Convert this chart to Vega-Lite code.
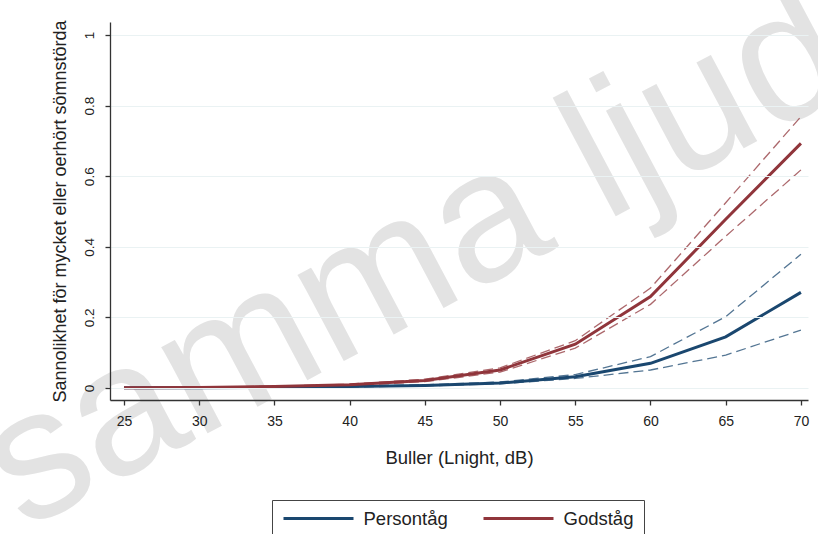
{
  "$schema": "https://vega.github.io/schema/vega-lite/v6.json",
  "autosize": {"type": "none"},
  "padding": {"left": 110, "top": 22, "right": 10, "bottom": 134},
  "width": 698,
  "height": 378,
  "background": "white",
  "config": {
    "font": "Liberation Sans",
    "view": {"stroke": null},
    "axis": {
      "labelFont": "Liberation Sans",
      "titleFont": "Liberation Sans",
      "labelColor": "#222222",
      "titleColor": "#222222",
      "titleFontWeight": "normal",
      "domainColor": "#333333",
      "tickColor": "#333333",
      "tickSize": 5,
      "domainWidth": 1.3,
      "tickWidth": 1.3
    }
  },
  "datasets": {
    "curves": [
      {"buller": 25, "grupp": "Persontåg", "kurva": "est", "p": 0.0005},
      {"buller": 30, "grupp": "Persontåg", "kurva": "est", "p": 0.001},
      {"buller": 35, "grupp": "Persontåg", "kurva": "est", "p": 0.002},
      {"buller": 40, "grupp": "Persontåg", "kurva": "est", "p": 0.004},
      {"buller": 45, "grupp": "Persontåg", "kurva": "est", "p": 0.007},
      {"buller": 50, "grupp": "Persontåg", "kurva": "est", "p": 0.014},
      {"buller": 55, "grupp": "Persontåg", "kurva": "est", "p": 0.032},
      {"buller": 60, "grupp": "Persontåg", "kurva": "est", "p": 0.07},
      {"buller": 65, "grupp": "Persontåg", "kurva": "est", "p": 0.145},
      {"buller": 70, "grupp": "Persontåg", "kurva": "est", "p": 0.271},
      {"buller": 25, "grupp": "Persontåg", "kurva": "lo", "p": 0.0003},
      {"buller": 30, "grupp": "Persontåg", "kurva": "lo", "p": 0.0007},
      {"buller": 35, "grupp": "Persontåg", "kurva": "lo", "p": 0.0015},
      {"buller": 40, "grupp": "Persontåg", "kurva": "lo", "p": 0.003},
      {"buller": 45, "grupp": "Persontåg", "kurva": "lo", "p": 0.006},
      {"buller": 50, "grupp": "Persontåg", "kurva": "lo", "p": 0.012},
      {"buller": 55, "grupp": "Persontåg", "kurva": "lo", "p": 0.027},
      {"buller": 60, "grupp": "Persontåg", "kurva": "lo", "p": 0.051},
      {"buller": 65, "grupp": "Persontåg", "kurva": "lo", "p": 0.093},
      {"buller": 70, "grupp": "Persontåg", "kurva": "lo", "p": 0.164},
      {"buller": 25, "grupp": "Persontåg", "kurva": "hi", "p": 0.0008},
      {"buller": 30, "grupp": "Persontåg", "kurva": "hi", "p": 0.0015},
      {"buller": 35, "grupp": "Persontåg", "kurva": "hi", "p": 0.003},
      {"buller": 40, "grupp": "Persontåg", "kurva": "hi", "p": 0.005},
      {"buller": 45, "grupp": "Persontåg", "kurva": "hi", "p": 0.009},
      {"buller": 50, "grupp": "Persontåg", "kurva": "hi", "p": 0.017},
      {"buller": 55, "grupp": "Persontåg", "kurva": "hi", "p": 0.038},
      {"buller": 60, "grupp": "Persontåg", "kurva": "hi", "p": 0.089},
      {"buller": 65, "grupp": "Persontåg", "kurva": "hi", "p": 0.202},
      {"buller": 70, "grupp": "Persontåg", "kurva": "hi", "p": 0.379},
      {"buller": 25, "grupp": "Godståg", "kurva": "est", "p": 0.0008},
      {"buller": 30, "grupp": "Godståg", "kurva": "est", "p": 0.0017},
      {"buller": 35, "grupp": "Godståg", "kurva": "est", "p": 0.004},
      {"buller": 40, "grupp": "Godståg", "kurva": "est", "p": 0.009},
      {"buller": 45, "grupp": "Godståg", "kurva": "est", "p": 0.021},
      {"buller": 50, "grupp": "Godståg", "kurva": "est", "p": 0.051},
      {"buller": 55, "grupp": "Godståg", "kurva": "est", "p": 0.124},
      {"buller": 60, "grupp": "Godståg", "kurva": "est", "p": 0.259},
      {"buller": 65, "grupp": "Godståg", "kurva": "est", "p": 0.478},
      {"buller": 70, "grupp": "Godståg", "kurva": "est", "p": 0.693},
      {"buller": 25, "grupp": "Godståg", "kurva": "lo", "p": 0.0005},
      {"buller": 30, "grupp": "Godståg", "kurva": "lo", "p": 0.0012},
      {"buller": 35, "grupp": "Godståg", "kurva": "lo", "p": 0.003},
      {"buller": 40, "grupp": "Godståg", "kurva": "lo", "p": 0.007},
      {"buller": 45, "grupp": "Godståg", "kurva": "lo", "p": 0.018},
      {"buller": 50, "grupp": "Godståg", "kurva": "lo", "p": 0.045},
      {"buller": 55, "grupp": "Godståg", "kurva": "lo", "p": 0.113},
      {"buller": 60, "grupp": "Godståg", "kurva": "lo", "p": 0.237},
      {"buller": 65, "grupp": "Godståg", "kurva": "lo", "p": 0.43},
      {"buller": 70, "grupp": "Godståg", "kurva": "lo", "p": 0.618},
      {"buller": 25, "grupp": "Godståg", "kurva": "hi", "p": 0.0011},
      {"buller": 30, "grupp": "Godståg", "kurva": "hi", "p": 0.0023},
      {"buller": 35, "grupp": "Godståg", "kurva": "hi", "p": 0.005},
      {"buller": 40, "grupp": "Godståg", "kurva": "hi", "p": 0.011},
      {"buller": 45, "grupp": "Godståg", "kurva": "hi", "p": 0.025},
      {"buller": 50, "grupp": "Godståg", "kurva": "hi", "p": 0.057},
      {"buller": 55, "grupp": "Godståg", "kurva": "hi", "p": 0.134},
      {"buller": 60, "grupp": "Godståg", "kurva": "hi", "p": 0.283},
      {"buller": 65, "grupp": "Godståg", "kurva": "hi", "p": 0.525},
      {"buller": 70, "grupp": "Godståg", "kurva": "hi", "p": 0.769}
    ],
    "mark": [{"text": "samma ljud"}]
  },
  "resolve": {"legend": {"color": "independent"}},
  "layer": [
    {
      "data": {"name": "mark"},
      "mark": {"type": "text", "font": "Liberation Sans", "fontSize": 185, "angle": -28, "align": "center", "baseline": "alphabetic", "color": "#e3e3e3"},
      "encoding": {
        "x": {"datum": 46.1, "type": "quantitative"},
        "y": {"datum": 0.224, "type": "quantitative"},
        "text": {"field": "text"}
      }
    },
    {
      "data": {"name": "curves"},
      "transform": [{"filter": "datum.kurva !== 'est'"}],
      "mark": {"type": "line", "strokeWidth": 1.3, "strokeDash": [10, 5], "opacity": 0.75},
      "encoding": {
        "x": {"field": "buller", "type": "quantitative"},
        "y": {"field": "p", "type": "quantitative"},
        "detail": {"field": "kurva"},
        "color": {"field": "grupp", "type": "nominal", "legend": null}
      }
    },
    {
      "data": {"name": "curves"},
      "transform": [{"filter": "datum.kurva === 'est'"}],
      "mark": {"type": "line", "strokeWidth": 3},
      "encoding": {
        "x": {
          "field": "buller", "type": "quantitative",
          "scale": {"domain": [24.07, 70.47], "nice": false, "zero": false},
          "axis": {"zindex": 2, "values": [25, 30, 35, 40, 45, 50, 55, 60, 65, 70], "grid": false, "title": "Buller (Lnight, dB)", "labelFontSize": 14, "titleFontSize": 18.5, "labelPadding": 9, "titlePadding": 20}
        },
        "y": {
          "field": "p", "type": "quantitative",
          "scale": {"domain": [-0.034, 1.037], "nice": false, "zero": false},
          "axis": {"zindex": 2, "values": [0, 0.2, 0.4, 0.6, 0.8, 1], "format": ".1~f", "grid": true, "gridColor": "#eaf2f3", "gridWidth": 1, "labelAngle": -90, "labelAlign": "center", "labelBaseline": "bottom", "labelFontSize": 13.5, "labelPadding": 9, "title": "Sannolikhet för mycket eller oerhört sömnstörda", "titleFontSize": 18, "titlePadding": 13}
        },
        "color": {
          "field": "grupp", "type": "nominal",
          "scale": {"domain": ["Persontåg", "Godståg"], "range": ["#1a476f", "#90353b"]},
          "legend": {
            "orient": "none", "legendX": 162, "legendY": 478,
            "direction": "horizontal", "title": null,
            "symbolType": "stroke", "symbolSize": 4900, "symbolStrokeWidth": 3,
            "clipHeight": 17, "labelFontSize": 18.5, "labelColor": "#222222",
            "labelOffset": 8.5, "columnPadding": 34, "padding": 10,
            "strokeColor": "#444444", "fillColor": "white"
          }
        }
      }
    }
  ]
}
